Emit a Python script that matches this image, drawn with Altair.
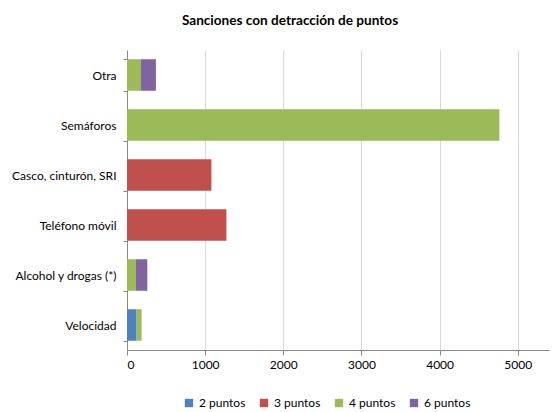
import altair as alt
import pandas as pd

categories = ["Otra", "Semáforos", "Casco, cinturón, SRI", "Teléfono móvil", "Alcohol y drogas (*)", "Velocidad"]
series = ["2 puntos", "3 puntos", "4 puntos", "6 puntos"]
colors = ["#4F81BD", "#C0504D", "#9BBB59", "#8064A2"]
tick_values = [0, 1000, 2000, 3000, 4000, 5000]

vals_2 = [0, 0, 0, 0, 0, 123]
vals_3 = [0, 0, 1080, 1272, 0, 0]
vals_4 = [178, 4765, 0, 0, 115, 64]
vals_6 = [192, 0, 0, 0, 145, 0]

rows = []
for s_i, (s, vals) in enumerate(zip(series, [vals_2, vals_3, vals_4, vals_6])):
    for c, v in zip(categories, vals):
        rows.append({"cat": c, "serie": s, "valor": v, "ord": s_i})
df = pd.DataFrame(rows)

FONT = "Lato"

chart = alt.Chart(df).mark_bar().encode(
    y=alt.Y("cat:N", sort=categories, title=None,
            scale=alt.Scale(paddingInner=0.37, paddingOuter=0.185),
            axis=alt.Axis(tickBand="extent", labelFontSize=12, labelFont=FONT,
                          labelColor="#000", labelPadding=7, tickSize=4,
                          domainColor="#888", tickColor="#888", labelLimit=200)),
    x=alt.X("valor:Q", stack="zero", title=None,
            scale=alt.Scale(domain=[0, 5400], nice=False),
            axis=alt.Axis(values=tick_values, format="d", labelFontSize=12,
                          labelFont=FONT, labelColor="#000", tickSize=5,
                          domainColor="#888", tickColor="#888", gridColor="#d9d9d9",
                          labelPadding=4)),
    color=alt.Color("serie:N", sort=series,
                    scale=alt.Scale(domain=series, range=colors),
                    legend=alt.Legend(title=None, orient="none", direction="horizontal",
                                      legendX=56, legendY=347, columns=4,
                                      symbolType="square", symbolSize=70,
                                      labelFont=FONT, labelFontSize=12, labelColor="#000",
                                      columnPadding=12, gridAlign="all")),
    order=alt.Order("ord:Q"),
).properties(
    width=422, height=300,
    title=alt.TitleParams("Sanciones con detracción de puntos", font=FONT, fontSize=13.6,
                          fontWeight="bold", anchor="middle", dx=-48, offset=16, color="#000"),
    autosize=alt.AutoSizeParams(type="none"),
    padding={"left": 119, "top": 42, "right": 3, "bottom": 62},
).configure_view(stroke=None)

chart.save("out.html", embed_options={"renderer": "svg", "actions": False})
